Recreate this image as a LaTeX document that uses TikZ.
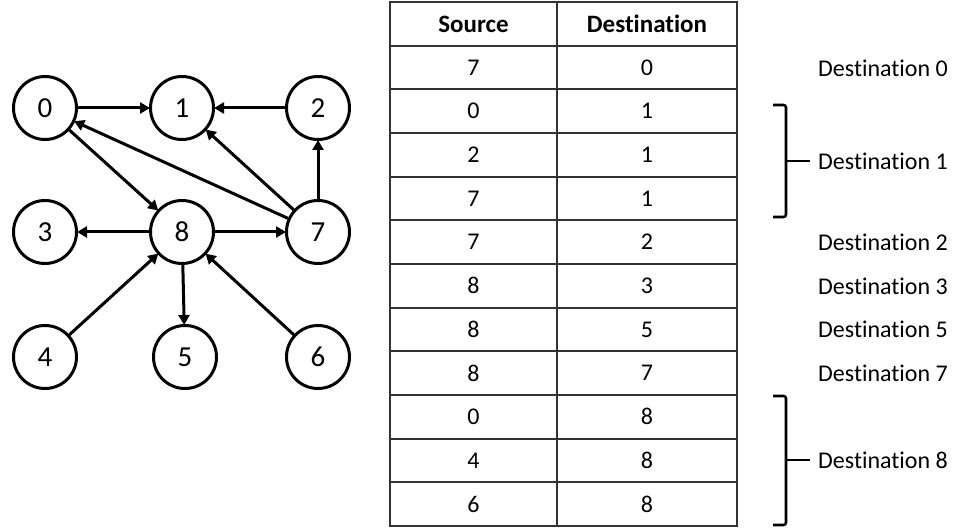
\documentclass[tikz,border=0pt]{standalone}
\usepackage{fontspec}
\setmainfont{Carlito}[Ligatures=NoCommon]
\usetikzlibrary{arrows.meta}
\begin{document}
\begin{tikzpicture}[x=1pt,y=-1pt,
  vert/.style={circle,draw,line width=3pt,minimum size=63pt,inner sep=0pt,font=\fontsize{29}{31}\selectfont},
  edge/.style={line width=3pt,-{Triangle[length=10pt,width=11pt]},shorten >=-1pt},
  cell/.style={font=\fontsize{24}{26}\selectfont,inner sep=0pt},
  hcell/.style={font=\bfseries\fontsize{25}{27}\selectfont,inner sep=0pt},
  lbl/.style={anchor=west,font=\fontsize{24}{26}\selectfont,inner sep=0pt},
  gridline/.style={line width=1.8pt,draw=black!80},
  brk/.style={line width=2.6pt,rounded corners=2.5pt}]
\useasboundingbox (0,0) rectangle (956,529);
% graph nodes
\node[vert] (n0) at (45,108) {0};
\node[vert] (n1) at (182,108) {1};
\node[vert] (n2) at (318,108) {2};
\node[vert] (n3) at (45,232) {3};
\node[vert] (n8) at (182,232) {8};
\node[vert] (n7) at (318,232) {7};
\node[vert] (n4) at (45,357) {4};
\node[vert] (n5) at (185,357) {5};
\node[vert] (n6) at (318,357) {6};
% edges
\draw[edge] (n0) -- (n1);
\draw[edge] (n2) -- (n1);
\draw[edge] (n7) -- (n0);
\draw[edge] (n7) -- (n1);
\draw[edge] (n7) -- (n2);
\draw[edge] (n0) -- (n8);
\draw[edge] (n8) -- (n3);
\draw[edge] (n8) -- (n7);
\draw[edge] (n8) -- (n5);
\draw[edge] (n4) -- (n8);
\draw[edge] (n6) -- (n8);
% table grid
\draw[gridline] (390,2) rectangle (737,526);
\draw[gridline] (557,2) -- (557,526);
\foreach \i in {1,...,11} {
  \draw[gridline] (390,{2+43.667*\i}) -- (737,{2+43.667*\i});
}
% header
\node[hcell] (hs) at (473.5,24) {Source};
\node[hcell] (hd) at (647,24) {Destination};
% rows
\foreach \s/\d [count=\r] in {7/0,0/1,2/1,7/1,7/2,8/3,8/5,8/7,0/8,4/8,6/8} {
  \node[cell] (s\r) at (473.5,{2+43.667*(\r+0.5)}) {\s};
  \node[cell] (d\r) at (647,{2+43.667*(\r+0.5)}) {\d};
}
% labels
\node[lbl] (l0) at (818,68) {Destination 0};
\node[lbl] (l1) at (818,161) {Destination 1};
\node[lbl] (l2) at (818,242) {Destination 2};
\node[lbl] (l3) at (818,286) {Destination 3};
\node[lbl] (l5) at (818,329) {Destination 5};
\node[lbl] (l7) at (818,373) {Destination 7};
\node[lbl] (l8) at (818,460) {Destination 8};
% brackets
\coordinate (b1) at (810,161);
\coordinate (b8) at (810,460);
\draw[brk] (773,105) -- (786,105) -- (786,217) -- (773,217);
\draw[brk] (786,161) -- (b1);
\draw[brk] (773,396) -- (786,396) -- (786,525) -- (773,525);
\draw[brk] (786,460) -- (b8);
\end{tikzpicture}
\end{document}
